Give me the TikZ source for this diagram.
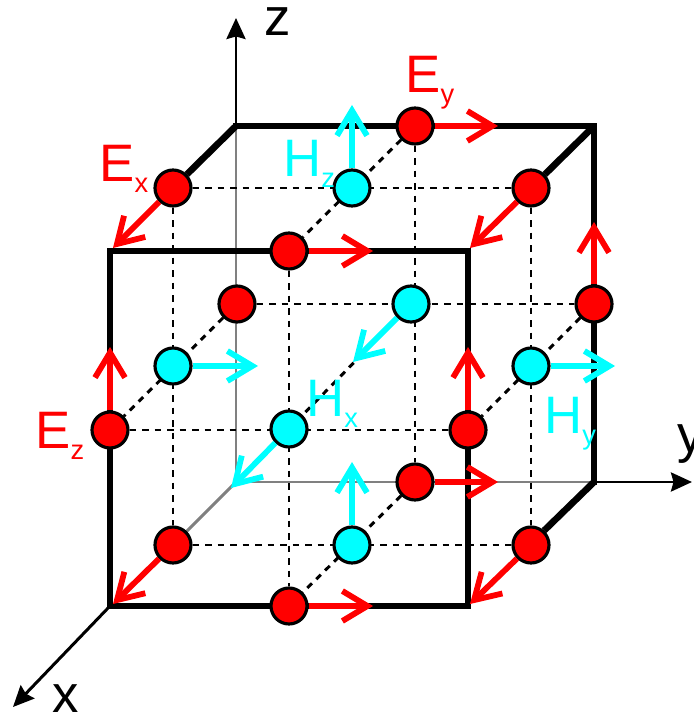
\documentclass[tikz,border=0pt]{standalone}
\usepackage{fontspec}
\setmainfont{Liberation Sans}
\usetikzlibrary{arrows.meta,backgrounds}
\definecolor{hcyan}{RGB}{0,255,255}
\definecolor{ered}{RGB}{255,0,0}
\newcommand{\fieldname}[2]{#1\lower 6pt\hbox{\fontsize{15.5}{15.5}\selectfont #2}}
\tikzset{
  gridpt/.style={circle,draw=black,line width=1.8pt,minimum size=0.72cm,inner sep=0pt},
  efield/.style={gridpt,fill=ered},
  hfield/.style={gridpt,fill=hcyan},
  earrow/.style={ered,line width=3.3pt,-{Straight Barb[length=0.5cm,width=0.6cm]}},
  harrow/.style={hcyan,line width=3.3pt,-{Straight Barb[length=0.5cm,width=0.6cm]}},
  edge/.style={black,line width=3.8pt,line cap=rect},
  slant/.style={black,line width=3.8pt},
  inner/.style={gray,line width=1.7pt},
  axis/.style={black,line width=1.7pt,-{Stealth[length=0.42cm,width=0.38cm,inset=0.05cm]}},
  mesh/.style={black,line width=1.7pt,dash pattern=on 0.13cm off 0.12cm},
  axislabel/.style={font=\fontsize{30}{30}\selectfont,anchor=base west,inner sep=0pt},
  elabel/.style={axislabel,text=ered},
  hlabel/.style={axislabel,text=hcyan}
}
\begin{document}
\begin{tikzpicture}[line join=miter]
\useasboundingbox (0,0) rectangle (13.88,14.34);
% cube corners
\foreach \name/\x/\y in {ftl/2.2/9.32,ftr/9.36/9.32,fbl/2.2/2.22,fbr/9.36/2.22,
  btl/4.72/11.82,btr/11.88/11.82,bbl/4.72/4.7,bbr/11.88/4.7}
  \coordinate (\name) at (\x,\y);
% sample points
\foreach \name/\x/\y in {ex1/3.46/10.58,ex2/10.62/10.58,ex3/3.46/3.44,ex4/10.62/3.44,
  ey1/8.3/11.82,ey2/5.78/9.32,ey3/8.3/4.7,ey4/5.78/2.22,
  ez1/11.88/8.26,ez2/2.2/5.74,ez3/9.36/5.74,ez4/4.74/8.26}
  \node[efield] (\name) at (\x,\y) {};
\foreach \name/\x/\y in {hx1/8.22/8.26,hx2/5.78/5.76,hy1/3.46/7.02,hy2/10.62/7.02,
  hz1/7.04/10.58,hz2/7.04/3.44}
  \node[hfield] (\name) at (\x,\y) {};
% arrow ends
\foreach \name/\x/\y in {ex1t/2.26/9.38,ex2t/9.4/9.38,ex3t/2.26/2.26,ex4t/9.4/2.26,
  ey1t/9.96/11.82,ey2t/7.46/9.32,ey3t/9.96/4.7,ey4t/7.46/2.22,
  ez1t/11.88/9.9,ez2t/2.2/7.4,ez3t/9.36/7.4,
  hx1t/7.06/7.1,hx2t/4.62/4.58,hy1t/5.16/7.02,hy2t/12.3/7.02,hz1t/7.04/12.24,hz2t/7.04/5.1}
  \coordinate (\name) at (\x,\y);
\coordinate (zend) at (4.72,13.98);
\coordinate (yend) at (13.84,4.7);
\coordinate (xend) at (0.26,0.2);
\begin{pgfonlayer}{background}
\draw[inner] (btl) -- (bbl) -- (bbr);
\draw[inner] (bbl) -- (ex3);
\draw[edge] (ftl) -- (ftr) -- (fbr) -- (fbl) -- cycle;
\draw[edge] (btl) -- (btr) -- (bbr);
\draw[slant] (btl) -- (ex1);
\draw[slant] (btr) -- (ex2);
\draw[slant] (bbr) -- (ex4);
\draw[mesh] (ex1) -- (ex2);
\draw[mesh] (ex3) -- (ex4);
\draw[mesh] (ez4) -- (ez1);
\draw[mesh] (ez2) -- (ez3);
\draw[mesh] (ex1) -- (ex3);
\draw[mesh] (ex2) -- (ex4);
\draw[mesh] (ey1) -- (ey3);
\draw[mesh] (ey2) -- (ey4);
\draw[mesh] (ey1) -- (ey2);
\draw[mesh] (ey3) -- (ey4);
\draw[mesh] (ez1) -- (ez3);
\draw[mesh] (ez4) -- (ez2);
\draw[mesh] (hx1) -- (hx2);
\end{pgfonlayer}
% axes
\draw[axis] (btl) -- (zend);
\draw[axis] (bbr) -- (yend);
\draw[axis] (fbl) -- (xend);
% field arrows
\foreach \name in {ex1,ex2,ex3,ex4,ey1,ey2,ey3,ey4,ez1,ez2,ez3}
  \draw[earrow] (\name) -- (\name t);
\foreach \name in {hx1,hx2,hy1,hy2,hz1,hz2}
  \draw[harrow] (\name) -- (\name t);
% labels
\node[axislabel] (zlabel) at (5.28,13.62) {z};
\node[axislabel] (ylabel) at (13.54,5.28) {y};
\node[axislabel] (xlabel) at (1.04,0.08) {x};
\node[elabel] (exlabel) at (1.98,10.7) {\fieldname{E}{x}};
\node[elabel] (eylabel) at (8.1,12.48) {\fieldname{E}{y}};
\node[elabel] (ezlabel) at (0.7,5.36) {\fieldname{E}{z}};
\node[hlabel] (hzlabel) at (5.66,10.8) {\fieldname{H}{z}};
\node[hlabel] (hxlabel) at (6.12,6.0) {\fieldname{H}{x}};
\node[hlabel] (hylabel) at (10.88,5.66) {\fieldname{H}{y}};
\end{tikzpicture}
\end{document}
